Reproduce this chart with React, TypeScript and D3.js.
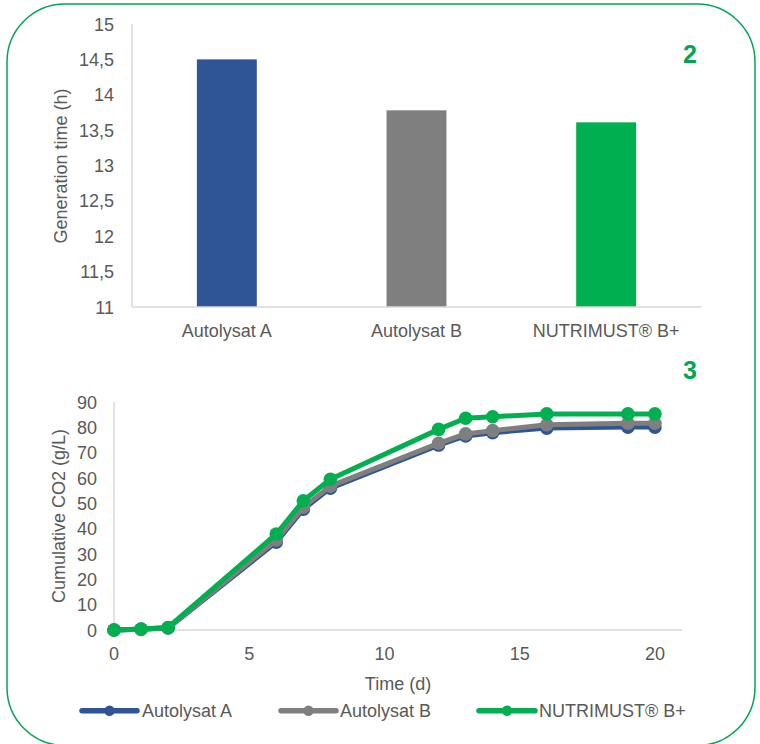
import React from "react";
import * as d3 from "d3";

const categories = ["Autolysat A", "Autolysat B", "NUTRIMUST® B+"];
const generationTime = [14.5, 13.78, 13.61];
const barColors = ["#2f5597", "#7f7f7f", "#00b050"];
const barTicks = [11, 11.5, 12, 12.5, 13, 13.5, 14, 14.5, 15];

const days = [0, 1, 2, 6, 7, 8, 12, 13, 14, 16, 19, 20];
const autolysatA = [0, 0.3, 0.8, 34.7, 47.7, 56.0, 73.0, 76.6, 77.9, 79.7, 80.1, 80.1];
const autolysatB = [0, 0.3, 0.9, 35.5, 48.5, 56.8, 73.7, 77.4, 78.7, 81.0, 81.6, 81.6];
const nutrimust = [0, 0.4, 1.0, 37.9, 51.0, 59.5, 79.2, 83.6, 84.2, 85.3, 85.3, 85.3];
const seriesNames = ["Autolysat A", "Autolysat B", "NUTRIMUST® B+"];
const seriesColors = ["#2f5597", "#7f7f7f", "#00b050"];
const lineYTicks = [0, 10, 20, 30, 40, 50, 60, 70, 80, 90];
const lineXTicks = [0, 5, 10, 15, 20];

const FONT = "Arial, 'Liberation Sans', sans-serif";
const TXT = "#595959";
const AXIS = "#d9d9d9";
const GREEN_LABEL = "#00a651";

export default function App() {
  // Bar chart scales
  const bx = d3.scaleBand<string>().domain(categories).range([132, 701]);
  const by = d3.scaleLinear().domain([11, 15]).range([307, 24]);
  const barW = bx.step() * 0.316;
  const fmt = (v: number) => String(v).replace(".", ",");

  // Line chart scales
  const lx = d3.scaleLinear().domain([0, 21]).range([114, 682]);
  const ly = d3.scaleLinear().domain([0, 90]).range([630, 402]);
  const allSeries = [autolysatA, autolysatB, nutrimust];
  const lineGen = d3
    .line<number>()
    .x((_, i) => lx(days[i]))
    .y((d) => ly(d));

  const legendItems = [
    { x1: 82, x2: 137, tx: 142 },
    { x1: 281, x2: 336, tx: 340 },
    { x1: 479, x2: 535, tx: 539 },
  ];

  return (
    <svg
      width={760}
      height={744}
      style={{ position: "absolute", left: 0, top: 0, background: "#fff" }}
      fontFamily={FONT}
    >
      <rect x={7} y={4} width={748} height={741.5} rx={58} ry={58} fill="#fff" stroke="#00a651" strokeWidth={1.5} />

      {/* Bar chart */}
      <line x1={132} x2={132} y1={by(15)} y2={by(11)} stroke={AXIS} strokeWidth={1.5} />
      {categories.map((c, i) => (
        <rect
          key={c}
          x={(bx(c) as number) + bx.step() / 2 - barW / 2}
          y={by(generationTime[i])}
          width={barW}
          height={by(11) - by(generationTime[i])}
          fill={barColors[i]}
        />
      ))}
      <line x1={132} x2={701} y1={by(11)} y2={by(11)} stroke={AXIS} strokeWidth={1.5} />
      {barTicks.map((t) => (
        <text key={t} x={114} y={by(t) + 6.5} textAnchor="end" fontSize={18} fill={TXT}>
          {fmt(t)}
        </text>
      ))}
      {categories.map((c) => (
        <text key={c} x={(bx(c) as number) + bx.step() / 2} y={336.5} textAnchor="middle" fontSize={18} fill={TXT}>
          {c}
        </text>
      ))}
      <text transform="translate(67,166) rotate(-90)" textAnchor="middle" fontSize={18} fill={TXT}>
        Generation time (h)
      </text>
      <text x={690} y={63} textAnchor="middle" fontSize={25} fontWeight="bold" fill={GREEN_LABEL}>
        2
      </text>

      {/* Line chart */}
      <text x={690} y={379} textAnchor="middle" fontSize={25} fontWeight="bold" fill={GREEN_LABEL}>
        3
      </text>
      <line x1={114} x2={114} y1={ly(90)} y2={ly(0)} stroke={AXIS} strokeWidth={1.5} />
      <line x1={114} x2={682} y1={ly(0)} y2={ly(0)} stroke={AXIS} strokeWidth={1.5} />
      {lineYTicks.map((t) => (
        <text key={t} x={97} y={ly(t) + 6.5} textAnchor="end" fontSize={18} fill={TXT}>
          {t}
        </text>
      ))}
      {lineXTicks.map((t) => (
        <text key={t} x={lx(t)} y={659.5} textAnchor="middle" fontSize={18} fill={TXT}>
          {t}
        </text>
      ))}
      <text x={398} y={689.5} textAnchor="middle" fontSize={18} fill={TXT}>
        Time (d)
      </text>
      <text transform="translate(65,516) rotate(-90)" textAnchor="middle" fontSize={18} fill={TXT}>
        Cumulative CO2 (g/L)
      </text>
      {allSeries.map((s, si) => (
        <g key={si}>
          <path d={lineGen(s) || ""} fill="none" stroke={seriesColors[si]} strokeWidth={5} strokeLinejoin="round" strokeLinecap="round" />
          {s.map((v, i) => (
            <circle key={i} cx={lx(days[i])} cy={ly(v)} r={6.8} fill={seriesColors[si]} />
          ))}
        </g>
      ))}

      {/* Legend */}
      {legendItems.map((it, i) => (
        <g key={i}>
          <line x1={it.x1} x2={it.x2} y1={710.7} y2={710.7} stroke={seriesColors[i]} strokeWidth={5.5} strokeLinecap="round" />
          <circle cx={(it.x1 + it.x2) / 2} cy={710.7} r={5.2} fill={seriesColors[i]} />
          <text x={it.tx} y={717} fontSize={18} fill={TXT}>
            {seriesNames[i]}
          </text>
        </g>
      ))}
    </svg>
  );
}
